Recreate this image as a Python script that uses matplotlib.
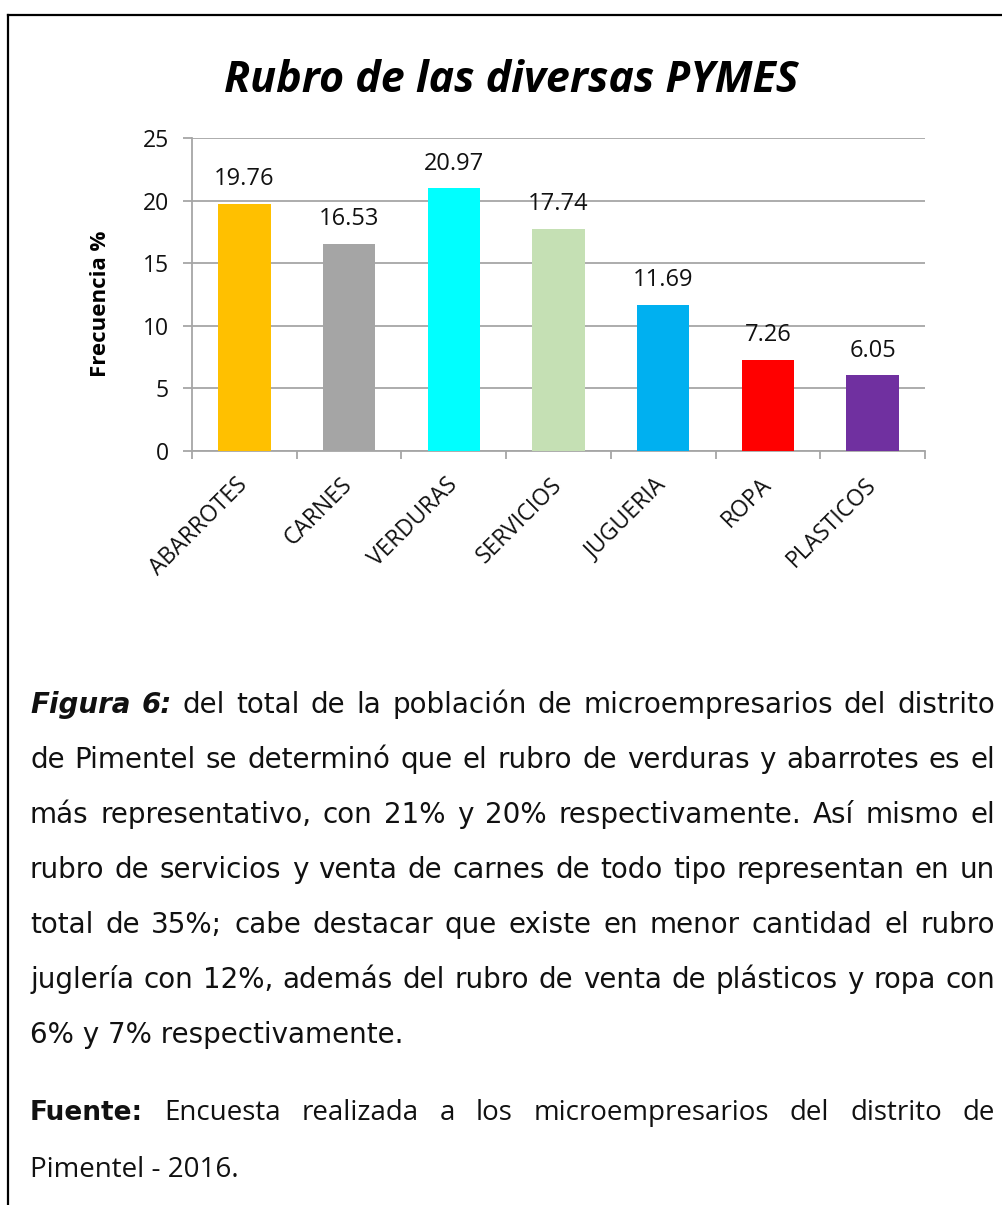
import matplotlib
matplotlib.use('Agg')
from matplotlib import pyplot as plt
from matplotlib.lines import Line2D

W, H = 1002, 1205

rubros = ['ABARROTES', 'CARNES', 'VERDURAS', 'SERVICIOS',
          'JUGUERIA', 'ROPA', 'PLASTICOS']
frecuencia = [19.76, 16.53, 20.97, 17.74, 11.69, 7.26, 6.05]
colores = ['#FFC000', '#A5A5A5', '#00FFFF', '#C5E0B4',
           '#00B0F0', '#FF0000', '#7030A0']
y_ticks = [0, 5, 10, 15, 20, 25]

titulo = 'Rubro de las diversas PYMES'
etiqueta_y = 'Frecuencia %'

# lines of the caption as they break in the document
parrafo = [
    'del total de la población de microempresarios del distrito',
    'de Pimentel se determinó que el rubro de verduras y abarrotes es el',
    'más representativo, con 21% y 20% respectivamente. Así mismo el',
    'rubro de servicios y venta de carnes de todo tipo representan en un',
    'total de 35%; cabe destacar que existe en menor cantidad el rubro',
    'juglería con 12%, además del rubro de venta de plásticos y ropa con',
    '6% y 7% respectivamente.',
]
fuente = [
    'Encuesta realizada a los microempresarios del distrito de',
    'Pimentel - 2016.',
]

GRIS = '#A6A6A6'
CUERPO = dict(family='DejaVu Sans', size=20, color='#111111')
NEGRITA = dict(family='DejaVu Sans', size=19, weight='bold', color='#111111')
FIGURA = dict(family='DejaVu Sans', size=20, weight='bold', style='italic',
              color='#111111')
CALIBRI = dict(family='Open Sans', size=20, color='#111111')


def fy(y_px):
    return 1 - y_px / H


def put_line(fig, renderer, words, y_px, left=30, right=995, justify=True):
    """Place words on one baseline, stretching the gaps to fill the line."""
    texts = [fig.text(0, fy(y_px), w, va='baseline', ha='left', **p)
             for w, p in words]
    widths = [t.get_window_extent(renderer).width for t in texts]
    gap = (right - left - sum(widths)) / max(len(texts) - 1, 1)
    if not justify:
        gap = 9
    x = left
    for t, w in zip(texts, widths):
        t.set_x(x / W)
        x += w + gap


def main():
    fig = plt.figure(figsize=(W / 100, H / 100), dpi=100)
    fig.patch.set_facecolor('white')

    # frame of the document box (top and left side)
    fig.add_artist(Line2D([8 / W, 1.0], [fy(15), fy(15)],
                          color='black', lw=1.6))
    fig.add_artist(Line2D([8 / W, 8 / W], [fy(15), 0.0],
                          color='black', lw=1.6))

    ax = fig.add_axes([192 / W, fy(451), 733 / W, 313 / H])
    x = range(len(rubros))
    bars = ax.bar(x, frecuencia, width=0.5, color=colores, zorder=3)
    for b, v in zip(bars, frecuencia):
        ax.annotate(f'{v:.2f}', (b.get_x() + b.get_width() / 2, v),
                    xytext=(0, 13.4), textcoords='offset points',
                    ha='center', va='baseline', family='Open Sans',
                    fontsize=17, color='#111111')

    ax.set_xlim(-0.5, len(rubros) - 0.5)
    ax.set_ylim(0, 25)
    ax.set_yticks(y_ticks)
    ax.set_yticklabels([str(t) for t in y_ticks], family='Open Sans',
                       fontsize=16.5, color='#111111')
    ax.yaxis.grid(True, color=GRIS, lw=1.3, zorder=0)
    ax.tick_params(axis='y', length=6.5, width=1.3, color=GRIS, pad=10)

    ax.set_xticks(list(x))
    ax.set_xticklabels(rubros, rotation=45, ha='right', va='center',
                       rotation_mode='anchor', family='Open Sans',
                       fontsize=16.5, color='#111111')
    ax.set_xticks([i - 0.5 for i in range(len(rubros) + 1)], minor=True)
    ax.tick_params(axis='x', which='major', length=0, pad=22)
    ax.tick_params(axis='x', which='minor', length=6, width=1.3,
                   color=GRIS)

    for s in ['top', 'right']:
        ax.spines[s].set_visible(False)
    for s in ['left', 'bottom']:
        ax.spines[s].set_color(GRIS)
        ax.spines[s].set_linewidth(1.3)

    fig.text(511 / W, fy(92), titulo, ha='center', va='baseline',
             family='Open Sans', weight='bold', style='italic',
             fontsize=31, color='black')
    fig.text(100 / W, fy(304), etiqueta_y, ha='center', va='center',
             rotation=90, family='Open Sans', weight='bold',
             fontsize=16, color='black')

    renderer = fig.canvas.get_renderer()

    base = 713
    salto = 55
    primera = [('Figura', FIGURA), ('6:', FIGURA)]
    primera += [(w, CUERPO) for w in parrafo[0].split()]
    put_line(fig, renderer, primera, base)
    for i, linea in enumerate(parrafo[1:-1], start=1):
        put_line(fig, renderer, [(w, CUERPO) for w in linea.split()],
                 base + i * salto)
    fig.text(30 / W, fy(base + 6 * salto), parrafo[-1], va='baseline',
             ha='left', **CUERPO)

    linea_f = [('Fuente:', NEGRITA)] + [(w, CALIBRI)
                                        for w in fuente[0].split()]
    put_line(fig, renderer, linea_f, 1120)
    fig.text(30 / W, fy(1177), fuente[1], va='baseline', ha='left',
             **CALIBRI)

    fig.savefig('out.png', dpi=100, facecolor='white')


if __name__ == "__main__":
    main()
